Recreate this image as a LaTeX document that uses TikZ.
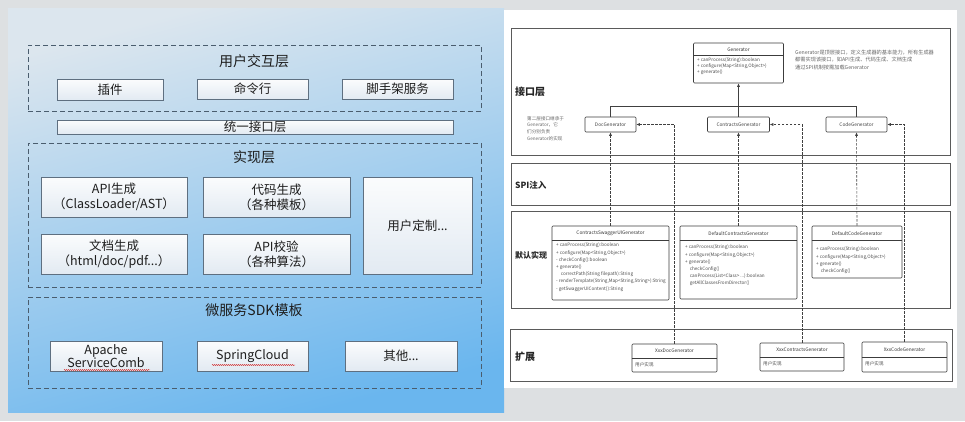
\documentclass[tikz,border=0pt]{standalone}
\usepackage{fontspec}
\setmainfont{Noto Sans CJK SC}
\usetikzlibrary{arrows.meta,decorations.pathmorphing}
\definecolor{bggray}{HTML}{DDE0E2}
\definecolor{paneltop}{HTML}{DCE6EE}
\definecolor{panelmid}{HTML}{A6CFEB}
\definecolor{panelbot}{HTML}{6AB6EE}
\definecolor{dashcol}{HTML}{4A5D6E}
\definecolor{boxline}{HTML}{5E6F80}
\definecolor{boxtop}{HTML}{FBFCFD}
\definecolor{boxbot}{HTML}{E2EAF2}
\definecolor{txt}{HTML}{1E1E1E}
\definecolor{frameline}{HTML}{5A5A5A}
\definecolor{clsline}{HTML}{3C3C3C}
\newcommand\lefttitle{\fontsize{14}{16}\selectfont}
\newcommand\leftbox{\fontsize{12.5}{15}\selectfont}
\newcommand\chead{\fontsize{4.8}{5.6}\selectfont}
\newcommand\cbodyf{\fontsize{4.6}{7.2}\selectfont}
\tikzset{
  dashlayer/.style={draw=dashcol, line width=0.7pt, dash pattern=on 5pt off 3pt, inner sep=0pt},
  lbox/.style={draw=boxline, line width=0.7pt, top color=boxtop, bottom color=boxbot, inner sep=0pt, text=txt, font=\leftbox, align=center},
  ltitle/.style={text=txt, font=\lefttitle, inner sep=0pt},
  rframe/.style={draw=frameline, line width=0.7pt, inner sep=0pt},
  rlab/.style={anchor=west, text=black!85, inner sep=0pt},
  cls/.style={draw=clsline, line width=0.6pt, rounded corners=1pt, fill=white, inner sep=0pt},
  ctitle/.style={font=\chead, text=black!80, inner sep=0pt},
  cbody/.style={font=\cbodyf, align=left, anchor=north west, inner sep=0pt, text=black!70},
  inherit/.style={line width=0.6pt, draw=black!75, -{Latex[length=3.5pt,width=3pt]}},
  realize/.style={line width=0.6pt, draw=black!75, dash pattern=on 2.5pt off 1.5pt, -{Latex[length=3.5pt,width=3pt]}},
  squig/.style={draw=red!80!black, line width=0.4pt, decorate, decoration={snake, segment length=2pt, amplitude=0.5pt}}
}
\begin{document}
\begin{tikzpicture}[x=1pt,y=-1pt]
\useasboundingbox (0,0) rectangle (965,421);
\fill[bggray] (0,0) rectangle (965,421);
% left blue panel
\shade[top color=paneltop, middle color=panelmid, bottom color=panelbot, shading angle=15] (8,8) rectangle (504,412);

% user interaction layer
\node[dashlayer, minimum width=453pt, minimum height=66pt] (uil) at (254.5,78) {};
\node[ltitle] (uilt) at (254,61) {用户交互层};
\node[lbox, minimum width=106pt, minimum height=21pt] (plug) at (110,89.5) {插件};
\node[lbox, minimum width=111pt, minimum height=20pt] (cli) at (252.5,89) {命令行};
\node[lbox, minimum width=111pt, minimum height=20pt] (scaf) at (397.5,89) {脚手架服务};
% unified interface
\node[lbox, minimum width=396pt, minimum height=14pt, font=\fontsize{12.5}{13}\selectfont] (uni) at (255,127) {统一接口层};
% implementation layer
\node[dashlayer, minimum width=453pt, minimum height=144pt] (impl) at (254.5,215) {};
\node[ltitle] (implt) at (254,157) {实现层};
\node[lbox, minimum width=146pt, minimum height=40pt] (apigen) at (114,197) {API生成\\（ClassLoader/AST）};
\node[lbox, minimum width=147pt, minimum height=40pt] (codegen) at (276.5,197) {代码生成\\（各种模板）};
\node[lbox, minimum width=109pt, minimum height=97pt] (custom) at (417.5,225.5) {用户定制...};
\node[lbox, minimum width=146pt, minimum height=40pt] (docgen) at (114,254) {文档生成\\（html/doc/pdf...）};
\node[lbox, minimum width=147pt, minimum height=40pt] (apichk) at (276.5,254) {API校验\\（各种算法）};
% SDK templates
\node[dashlayer, minimum width=453pt, minimum height=91pt] (sdk) at (254.5,342.5) {};
\node[ltitle] (sdkt) at (254,310) {微服务SDK模板};
\node[lbox, minimum width=112pt, minimum height=30pt, font=\fontsize{12.5}{13.5}\selectfont] (scomb) at (106,356) {Apache\\ServiceComb};
\node[lbox, minimum width=111pt, minimum height=30pt] (scloud) at (252.5,356) {SpringCloud};
\node[lbox, minimum width=112pt, minimum height=30pt] (other) at (401,356) {其他...};
\draw[squig] (64,370) -- (150,370);
\draw[squig] (212,365) -- (295,365);

% right white panel
\fill[white] (504,10) rectangle (957,388);

% layer frames
\node[rframe, minimum width=439pt, minimum height=127pt] (f1) at (730.5,91.5) {};
\node[rframe, minimum width=439pt, minimum height=42pt] (f2) at (730.5,184) {};
\node[rframe, minimum width=439pt, minimum height=97pt] (f3) at (730.5,259.5) {};
\node[rframe, minimum width=442pt, minimum height=52pt] (f4) at (731,355) {};
\node[rlab, font=\fontsize{10}{12}\selectfont\bfseries] (l1) at (515,92) {接口层};
\node[rlab, font=\fontsize{8.5}{10}\selectfont\bfseries] (l2) at (515,185) {SPI注入};
\node[rlab, font=\fontsize{8}{10}\selectfont\bfseries] (l3) at (515,255) {默认实现};
\node[rlab, font=\fontsize{10}{12}\selectfont\bfseries] (l4) at (515,357) {扩展};

% Generator interface
\node[cls, minimum width=90pt, minimum height=40pt] (gen) at (738.5,63) {};
\draw[clsline, line width=0.5pt] (gen.west|-{(0,55)}) -- (gen.east|-{(0,55)});
\node[ctitle] (gent) at (738.5,49.3) {Generator};
\node[cbody, font=\fontsize{4.6}{6}\selectfont] (genb) at (697,58) {+ canProcess(String):boolean\\+ configure(Map<String,Object>)\\+ generate()};

% notes
\node[anchor=north west, inner sep=0pt, align=left, text=black!60, font=\fontsize{5.2}{7.2}\selectfont] (note) at (795,50) {Generator是顶层接口，定义生成器的基本能力，所有生成器\\都需实现该接口，如API生成、代码生成、文档生成\\通过SPI机制按需加载Generator};
\node[anchor=north west, inner sep=0pt, align=left, text=black!60, font=\fontsize{4.6}{6.8}\selectfont] (note2) at (527,116) {第二层接口继承于\\Generator，它\\们分别负责\\Generator的实现};

% second level interfaces
\node[cls, minimum width=51pt, minimum height=15pt, font=\chead, text=black!75] (doc) at (610.5,124.5) {DocGenerator};
\node[cls, minimum width=62pt, minimum height=15pt, font=\chead, text=black!75] (con) at (738.5,124.5) {ContractsGenerator};
\node[cls, minimum width=61pt, minimum height=15pt, font=\chead, text=black!75] (code) at (856.5,124.5) {CodeGenerator};

% inheritance tree
\coordinate (hl) at (610,106);
\draw[line width=0.6pt, draw=black!75] (doc.north) -- (doc.north|-hl) -- (code.north|-hl) -- (code.north);
\draw[inherit] (con.north) -- (gen.south);

% default implementations
\node[cls, minimum width=117pt, minimum height=74pt] (swag) at (610.5,263) {};
\draw[clsline, line width=0.5pt] (swag.west|-{(0,240)}) -- (swag.east|-{(0,240)});
\node[ctitle] (swagt) at (610.5,233.3) {ContractsSwaggerUIGenerator};
\node[cbody] (swagb) at (556,243) {+ canProcess(String):boolean\\+ configure(Map<String,Object>)\\- checkConfig():boolean\\+ generate()\\\quad correctPath(String filepath):String\\- renderTemplate(String,Map<String,String>):String\\- getSwaggerUIContent():String};

\node[cls, minimum width=117pt, minimum height=73pt] (defc) at (738.5,262.5) {};
\draw[clsline, line width=0.5pt] (defc.west|-{(0,240)}) -- (defc.east|-{(0,240)});
\node[ctitle] (defct) at (738.5,233.3) {DefaultContractsGenerator};
\node[cbody] (defcb) at (685,245) {+ canProcess(String):boolean\\+ configure(Map<String,Object>)\\+ generate()\\\quad checkConfig()\\\quad canProcess(List<Class> ...):boolean\\\quad getAllClassesFromDirector()};

\node[cls, minimum width=90pt, minimum height=52pt] (defcode) at (857,252) {};
\draw[clsline, line width=0.5pt] (defcode.west|-{(0,240)}) -- (defcode.east|-{(0,240)});
\node[ctitle] (defcodet) at (857,233.3) {DefaultCodeGenerator};
\node[cbody] (defcodeb) at (816,247) {+ canProcess(String):boolean\\+ configure(Map<String,Object>)\\+ generate()\\\quad checkConfig()};

% extensions
\node[cls, minimum width=85pt, minimum height=28pt] (xdoc) at (674.5,358) {};
\draw[clsline, line width=0.5pt] (xdoc.west|-{(0,358)}) -- (xdoc.east|-{(0,358)});
\node[ctitle] (xdoct) at (674.5,351) {XxxDocGenerator};
\node[cbody] (xdocb) at (635,362) {用户实现};

\node[cls, minimum width=84pt, minimum height=28pt] (xcon) at (802,357) {};
\draw[clsline, line width=0.5pt] (xcon.west|-{(0,357)}) -- (xcon.east|-{(0,357)});
\node[ctitle] (xcont) at (802,350) {XxxContractsGenerator};
\node[cbody] (xconb) at (763,361) {用户实现};

\node[cls, minimum width=85pt, minimum height=30pt] (xcode) at (904.5,357) {};
\draw[clsline, line width=0.5pt] (xcode.west|-{(0,357)}) -- (xcode.east|-{(0,357)});
\node[ctitle] (xcodet) at (904.5,349.5) {XxxCodeGenerator};
\node[cbody] (xcodeb) at (865,361) {用户实现};

% realization connectors
\draw[realize] (swag.north) -- (doc.south);
\draw[realize] (defc.north) -- (con.south);
\draw[realize] (defcode.north) -- (code.south);
\draw[realize] (xdoc.north) |- (doc.east);
\draw[realize] (xcon.north) |- (con.east);
\draw[realize] (xcode.north) |- (code.east);
\end{tikzpicture}
\end{document}
